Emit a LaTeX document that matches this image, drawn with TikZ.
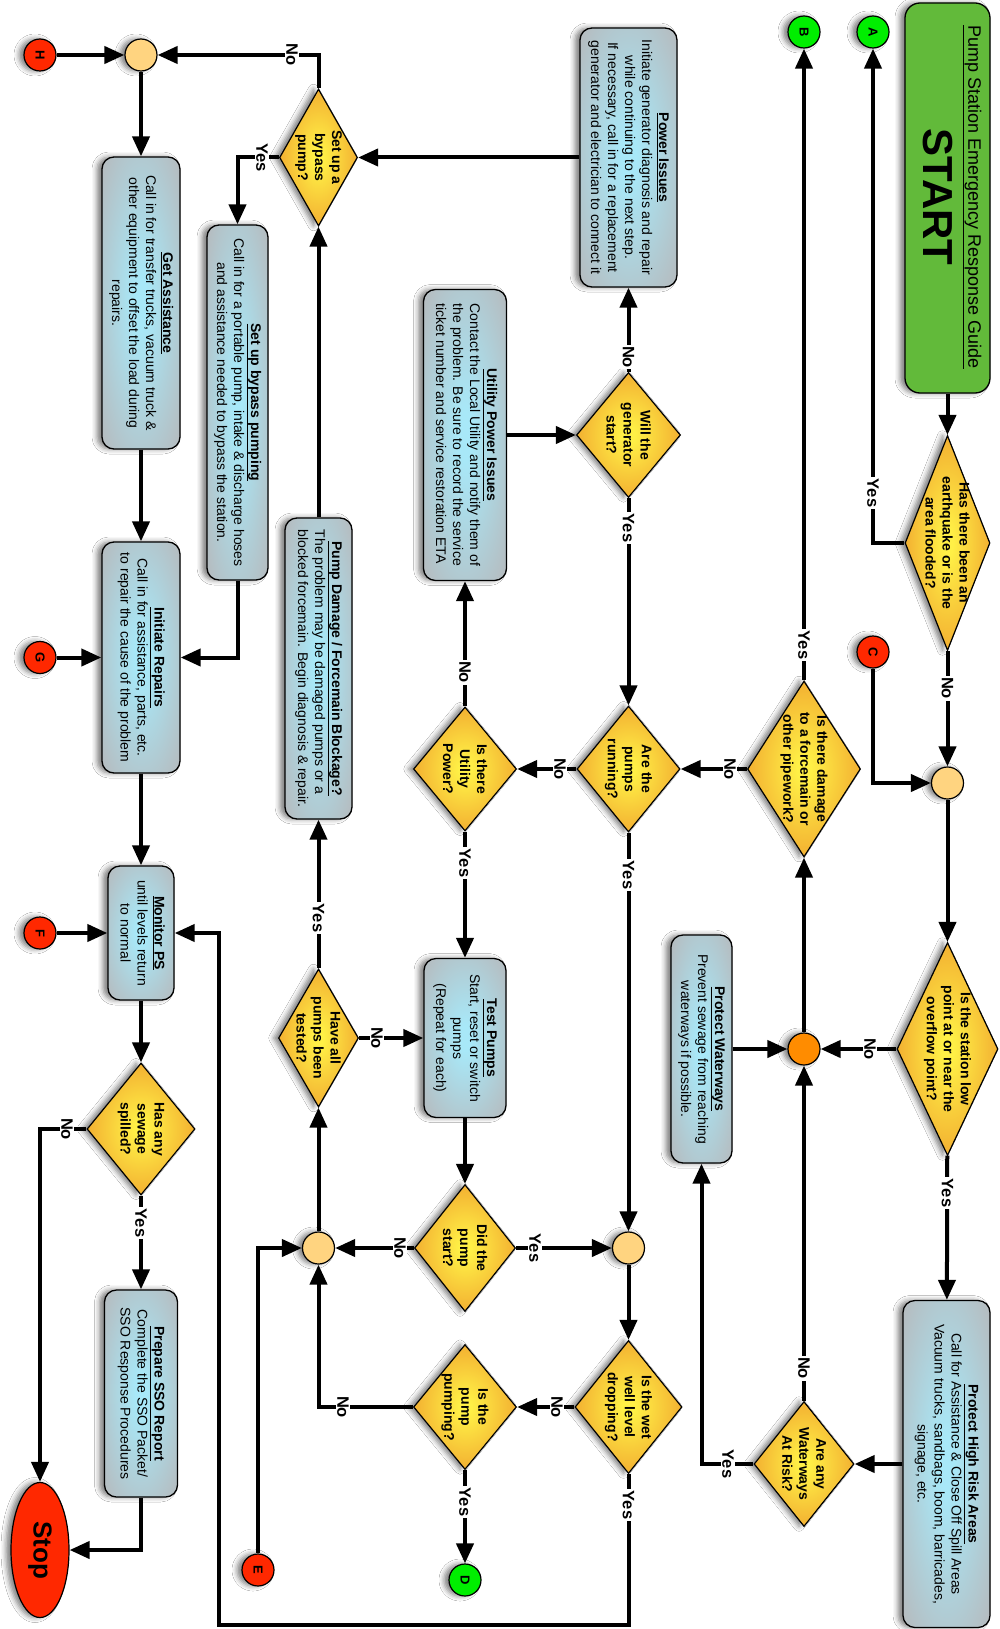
\documentclass[tikz,border=0pt]{standalone}
\usepackage{fontspec}
\setmainfont{Liberation Sans}
\usetikzlibrary{arrows.meta,shapes.geometric,shadows.blur}

\definecolor{boxin}{RGB}{168,232,248}
\definecolor{boxout}{RGB}{182,185,188}
\definecolor{diain}{RGB}{255,240,70}
\definecolor{diaout}{RGB}{240,162,45}
\definecolor{mergefill}{RGB}{255,212,128}
\definecolor{hubfill}{RGB}{255,140,0}
\definecolor{linkred}{RGB}{255,40,0}
\definecolor{linkgreen}{RGB}{0,238,0}
\definecolor{startgreen}{RGB}{98,186,58}

% soft glow fills for process boxes and decisions
\pgfdeclareradialshading{boxglow}{\pgfpoint{0bp}{0bp}}{color(0bp)=(boxin); color(4bp)=(boxin); color(36bp)=(boxout); color(50bp)=(boxout)}
\pgfdeclareradialshading{diaglow}{\pgfpoint{0bp}{0bp}}{color(0bp)=(diain); color(3bp)=(diain); color(30bp)=(diaout); color(50bp)=(diaout)}

% rotated multi-line text block for the process boxes
\newcommand\rt[2][c]{\rotatebox{-90}{\begin{tabular}{@{}#1@{}}#2\end{tabular}}}
\newcommand\ttl[1]{\underline{\textbf{#1}}}

\begin{document}
\begin{tikzpicture}[x=1pt,y=-1pt,
  softshadow/.style={blur shadow={shadow xshift=-5pt,shadow yshift=0pt,shadow blur radius=5pt,shadow opacity=50}},
  box/.style={softshadow, rectangle, rounded corners=12pt, draw=black, line width=1.3pt,
    shading=boxglow, inner sep=0pt, font=\fontsize{14}{17}\selectfont},
  dia/.style={softshadow, diamond, draw=black, line width=1.2pt, shading=diaglow, inner sep=0pt},
  qtext/.style={rotate=-90, align=center, font=\fontsize{14}{17}\selectfont\bfseries, inner sep=0pt},
  dot/.style={softshadow, circle, draw=black, line width=1.2pt, minimum size=32pt, inner sep=0pt},
  merge/.style={dot, fill=mergefill},
  link/.style={dot, font=\fontsize{13}{13}\selectfont\bfseries},
  redlink/.style={link, fill=linkred},
  greenlink/.style={link, fill=linkgreen},
  lbl/.style={rotate=-90, fill=white, inner sep=1.5pt, font=\fontsize{16.5}{16.5}\selectfont\bfseries},
  arr/.style={line width=4pt, -{Triangle[length=20pt,width=17pt]}},
]
\fill[white] (0,0) rectangle (999,1629);
\useasboundingbox (0,0) rectangle (999,1629);

% ---------- start ----------
\node[softshadow, rectangle, rounded corners=15pt, draw=black, line width=1.3pt, fill=startgreen,
      minimum width=85pt, minimum height=390pt] (start) at (947.5,198) {};
\node[rotate=-90, font=\fontsize{18}{18}\selectfont, inner sep=0pt] (guide) at (972,197) {\underline{Pump Station Emergency Response Guide}};
\node[rotate=-90, font=\fontsize{42}{42}\selectfont\bfseries, inner sep=0pt] (starttxt) at (938,197) {START};

% ---------- decisions ----------
\node[dia, minimum width=85pt, minimum height=215pt] (qEQ) at (947.5,543) {};
\node[qtext] (qEQt) at (qEQ) {Has there been an\\earthquake or is the\\area flooded?};
\node[dia, minimum width=101pt, minimum height=213pt] (qLow) at (947.5,1049) {};
\node[qtext] (qLowt) at (qLow) {Is the station low\\point at or near the\\overflow point?};
\node[dia, minimum width=113pt, minimum height=176pt] (qDam) at (804,769) {};
\node[qtext] (qDamt) at (qDam) {Is there damage\\to a forcemain or\\other pipework?};
\node[dia, minimum width=100pt, minimum height=125pt] (qWR) at (804,1464) {};
\node[qtext] (qWRt) at (qWR) {Are any\\Waterways\\At Risk?};
\node[dia, minimum width=103pt, minimum height=126pt] (qRun) at (628.5,769) {};
\node[qtext] (qRunt) at (qRun) {Are the\\pumps\\running?};
\node[dia, minimum width=104pt, minimum height=125pt] (qGen) at (628.5,435) {};
\node[qtext] (qGent) at (qGen) {Will the\\generator\\start?};
\node[dia, minimum width=103pt, minimum height=124pt] (qUtil) at (465,769) {};
\node[qtext] (qUtilt) at (qUtil) {Is there\\Utility\\Power?};
\node[dia, minimum width=101pt, minimum height=127pt] (qStart) at (465,1248) {};
\node[qtext] (qStartt) at (qStart) {Did the\\pump\\start?};
\node[dia, minimum width=107pt, minimum height=133pt] (qWell) at (628.5,1407) {};
\node[qtext] (qWellt) at (qWell) {Is the wet\\well level\\dropping?};
\node[dia, minimum width=103pt, minimum height=125pt] (qPumping) at (465,1407) {};
\node[qtext] (qPumpingt) at (qPumping) {Is the\\pump\\pumping?};
\node[dia, minimum width=80pt, minimum height=138pt] (qAll) at (318.5,1038) {};
\node[qtext] (qAllt) at (qAll) {Have all\\pumps been\\tested?};
\node[dia, minimum width=78pt, minimum height=137pt] (qByp) at (318.5,157.5) {};
\node[qtext] (qBypt) at (qByp) {Set up a\\bypass\\pump?};
\node[dia, minimum width=108pt, minimum height=132pt] (qSpill) at (141,1129) {};
\node[qtext] (qSpillt) at (qSpill) {Has any\\sewage\\spilled?};

% ---------- process boxes ----------
\node[box, minimum width=97pt, minimum height=259pt] (pPow) at (628.5,157.5)
  {\rt{\ttl{Power Issues}\\Initiate generator diagnosis and repair\\while continuing to the next step.\\If necessary, call in for a replacement\\generator and electrician to connect it}};
\node[box, minimum width=83pt, minimum height=291pt] (pUtil) at (465,435)
  {\rt[l]{\multicolumn{1}{c}{\ttl{Utility Power Issues}}\\Contact the Local Utility and notify them of\\the problem. Be sure to record the service\\ticket number and service restoration ETA}};
\node[box, minimum width=67pt, minimum height=301pt] (pDam) at (318.5,668.5)
  {\rt[l]{\multicolumn{1}{c}{\ttl{Pump Damage / Forcemain Blockage?}}\\The problem may be damaged pumps or a\\blocked forcemain. Begin diagnosis \& repair.}};
\node[box, minimum width=82pt, minimum height=159pt] (pTest) at (465,1038)
  {\rt{\ttl{Test Pumps}\\Start, reset or switch\\pumps\\(Repeat for each)}};
\node[box, minimum width=61pt, minimum height=228pt] (pWW) at (701.5,1049)
  {\rt{\ttl{Protect Waterways}\\Prevent sewage from reaching\\waterways if possible.}};
\node[box, minimum width=87pt, minimum height=327pt] (pHigh) at (946.5,1464)
  {\rt{\ttl{Protect High Risk Areas}\\Call for Assistance \& Close Off Spill Areas\\Vacuum trucks, sandbags, boom, barricades,\\signage, etc.}};
\node[box, minimum width=61pt, minimum height=355pt] (pBypass) at (237.5,402.5)
  {\rt{\ttl{Set up bypass pumping}\\Call in for a portable pump, intake \& discharge hoses\\and assistance needed to bypass the station.}};
\node[box, minimum width=78pt, minimum height=292pt] (pGet) at (141,303)
  {\rt{\ttl{Get Assistance}\\Call in for transfer trucks, vacuum truck \&\\other equipment to offset the load during\\repairs.}};
\node[box, minimum width=78pt, minimum height=231pt] (pRep) at (141,657.5)
  {\rt{\ttl{Initiate Repairs}\\Call in for assistance, parts, etc.\\to repair the cause of the problem}};
\node[box, minimum width=66pt, minimum height=134pt] (pMon) at (141,933)
  {\rt{\ttl{Monitor PS}\\until levels return\\to normal}};
\node[box, minimum width=73pt, minimum height=207pt] (pSSO) at (141,1393.5)
  {\rt{\ttl{Prepare SSO Report}\\Complete the SSO Packet/\\SSO Response Procedures}};

% ---------- junctions and off-page links ----------
\node[merge] (m1) at (947.5,783) {};
\node[dot, fill=hubfill] (cOr) at (804,1049) {};
\node[merge] (m3) at (628.5,1248) {};
\node[merge] (m4) at (318.5,1248) {};
\node[merge] (mH) at (141,55) {};
\node[greenlink] (cA) at (873,32) {\rotatebox{-90}{A}};
\node[greenlink] (cB) at (804,32) {\rotatebox{-90}{B}};
\node[redlink] (cC) at (873,652) {\rotatebox{-90}{C}};
\node[greenlink] (cD) at (465,1580) {\rotatebox{-90}{D}};
\node[redlink] (cE) at (258,1570) {\rotatebox{-90}{E}};
\node[redlink] (cF) at (40,933) {\rotatebox{-90}{F}};
\node[redlink] (cG) at (40,657.5) {\rotatebox{-90}{G}};
\node[redlink] (cH) at (40,55) {\rotatebox{-90}{H}};
\node[softshadow, ellipse, draw=black, line width=1.2pt, fill=linkred, minimum width=58pt, minimum height=135pt,
      inner sep=0pt, font=\fontsize{26}{26}\selectfont\bfseries] (stop) at (40,1550) {\rotatebox{-90}{Stop}};

% ---------- connectors ----------
\draw[arr] (start) -- (qEQ);
\draw[arr] (qEQ.west) -| (cA);
\draw[arr] (qEQ) -- (m1);
\draw[arr] (cC) |- (m1);
\draw[arr] (m1) -- (qLow);
\draw[arr] (qLow) -- (cOr);
\draw[arr] (qLow) -- (pHigh);
\draw[arr] (pHigh) -- (qWR);
\draw[arr] (qWR) -- (cOr);
\draw[arr] (qWR.west) -| (pWW);
\draw[arr] (pWW) -- (cOr);
\draw[arr] (cOr) -- (qDam);
\draw[arr] (qDam) -- (cB);
\draw[arr] (qDam) -- (qRun);
\draw[arr] (qRun) -- (qUtil);
\draw[arr] (qRun) -- (m3);
\draw[arr] (qGen) -- (pPow);
\draw[arr] (qGen) -- (qRun);
\draw[arr] (pUtil) -- (qGen);
\draw[arr] (qUtil) -- (pUtil);
\draw[arr] (qUtil) -- (pTest);
\draw[arr] (pTest) -- (qStart);
\draw[arr] (qStart) -- (m3);
\draw[arr] (qStart) -- (m4);
\draw[arr] (m3) -- (qWell);
\draw[arr] (qWell) -- (qPumping);
\draw[arr] (qPumping) -- (cD);
\draw[arr] (qPumping.west) -| (m4);
\coordinate (wb) at (628.5,1625);
\coordinate (wl) at (219,1625);
\draw[arr] (qWell.south) -- (wb) -- (wl) |- (pMon);
\draw[arr] (cE) |- (m4);
\draw[arr] (m4) -- (qAll);
\draw[arr] (qAll) -- (pTest);
\draw[arr] (qAll) -- (pDam);
\draw[arr] (pDam) -- (qByp);
\draw[arr] (pPow) -- (qByp);
\draw[arr] (qByp.north) |- (mH);
\draw[arr] (qByp.west) -| (pBypass);
\draw[arr] (pBypass.south) |- (pRep);
\draw[arr] (cH) -- (mH);
\draw[arr] (mH) -- (pGet);
\draw[arr] (pGet) -- (pRep);
\draw[arr] (cG) -- (pRep);
\draw[arr] (pRep) -- (pMon);
\draw[arr] (cF) -- (pMon);
\draw[arr] (pMon) -- (qSpill);
\draw[arr] (qSpill) -- (pSSO);
\draw[arr] (qSpill.west) -| (stop);
\draw[arr] (pSSO.south) |- (stop);

% ---------- branch labels ----------
\node[lbl] (l1) at (873,493) {Yes};
\node[lbl] (l2) at (947.5,688) {No};
\node[lbl] (l3) at (870,1049) {No};
\node[lbl] (l4) at (947.5,1193) {Yes};
\node[lbl] (l5) at (804,1368) {No};
\node[lbl] (l6) at (728,1464) {Yes};
\node[lbl] (l7) at (804,645) {Yes};
\node[lbl] (l8) at (730,769) {No};
\node[lbl] (l9) at (560,769) {No};
\node[lbl] (l10) at (628.5,875) {Yes};
\node[lbl] (l11) at (628.5,357) {No};
\node[lbl] (l12) at (628.5,528) {Yes};
\node[lbl] (l13) at (465,672) {No};
\node[lbl] (l14) at (465,863) {Yes};
\node[lbl] (l15) at (535,1248) {Yes};
\node[lbl] (l16) at (400,1248) {No};
\node[lbl] (l17) at (557,1407) {No};
\node[lbl] (l18) at (465,1502) {Yes};
\node[lbl] (l19) at (343,1407) {No};
\node[lbl] (l20) at (628.5,1505) {Yes};
\node[lbl] (l21) at (377,1038) {No};
\node[lbl] (l22) at (318.5,918) {Yes};
\node[lbl] (l23) at (292,55) {No};
\node[lbl] (l24) at (262,157.5) {Yes};
\node[lbl] (l25) at (141,1223) {Yes};
\node[lbl] (l26) at (67,1129) {No};
\end{tikzpicture}
\end{document}
